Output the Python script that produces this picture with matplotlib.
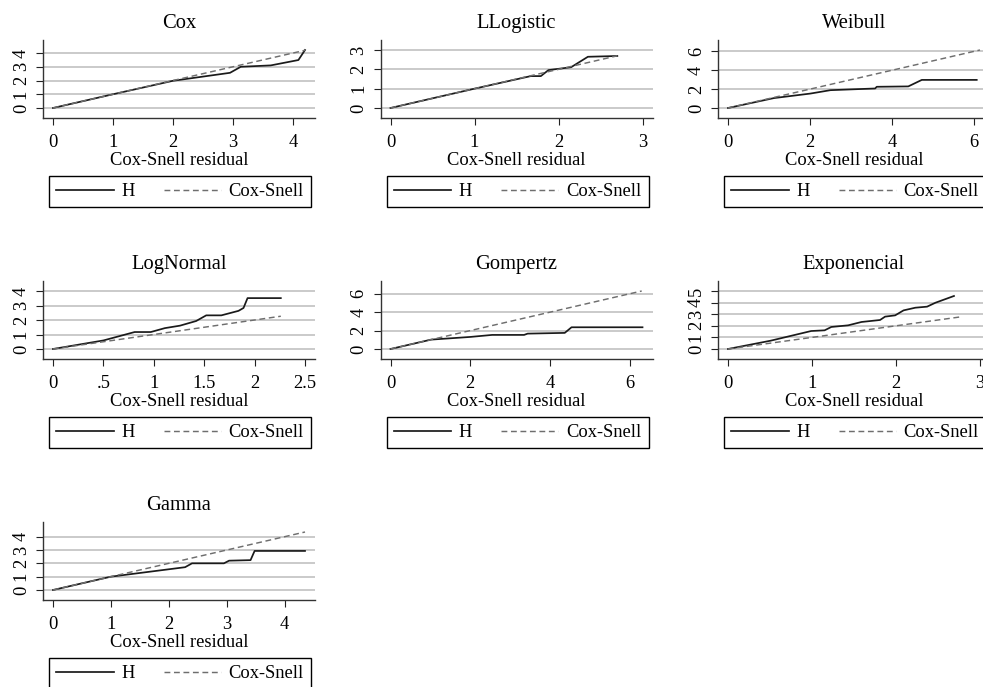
import matplotlib.pyplot as plt
from matplotlib.lines import Line2D

plt.rcParams["font.family"] = ["Liberation Serif", "DejaVu Serif"]

models = ["Cox", "LLogistic", "Weibull", "LogNormal", "Gompertz", "Exponencial", "Gamma"]

# Nelson-Aalen cumulative hazard (H) of the Cox-Snell residuals, one pair per model
cox_x = [0, 1.0, 2.0, 2.95, 3.13, 3.63, 4.09, 4.2]
cox_h = [0, 1.0, 1.98, 2.56, 3.0, 3.1, 3.49, 4.22]

llog_x = [0, 1.0, 1.67, 1.79, 1.88, 2.15, 2.35, 2.70]
llog_h = [0, 1.0, 1.65, 1.65, 1.96, 2.11, 2.65, 2.69]

weib_x = [0, 1.12, 2.01, 2.5, 3.59, 3.63, 4.4, 4.73, 6.07]
weib_h = [0, 1.05, 1.53, 1.89, 2.07, 2.25, 2.29, 2.98, 2.98]

lnorm_x = [0, 0.5, 0.81, 0.97, 1.11, 1.26, 1.42, 1.52, 1.67, 1.84, 1.89, 1.93, 2.26]
lnorm_h = [0, 0.59, 1.17, 1.17, 1.44, 1.61, 1.93, 2.32, 2.32, 2.63, 2.83, 3.51, 3.51]

gomp_x = [0, 1.02, 2.0, 2.55, 3.35, 3.44, 4.37, 4.54, 6.32]
gomp_h = [0, 1.02, 1.31, 1.53, 1.53, 1.67, 1.75, 2.36, 2.36]

expo_x = [0, 0.51, 0.99, 1.15, 1.23, 1.43, 1.59, 1.81, 1.87, 1.99, 2.09, 2.23, 2.37, 2.47, 2.69]
expo_h = [0, 0.72, 1.55, 1.61, 1.90, 2.04, 2.33, 2.50, 2.79, 2.90, 3.33, 3.56, 3.65, 3.99, 4.57]

gamma_x = [0, 1.0, 2.28, 2.40, 2.95, 3.04, 3.41, 3.48, 4.35]
gamma_h = [0, 1.0, 1.71, 2.0, 2.0, 2.2, 2.24, 2.93, 2.93]

h_x = [cox_x, llog_x, weib_x, lnorm_x, gomp_x, expo_x, gamma_x]
h_y = [cox_h, llog_h, weib_h, lnorm_h, gomp_h, expo_h, gamma_h]

# largest Cox-Snell residual (end of the 45 degree reference line)
cs_max = [4.2, 2.7, 6.15, 2.26, 6.3, 2.78, 4.35]

x_ticks = [[0, 1, 2, 3, 4], [0, 1, 2, 3], [0, 2, 4, 6], [0, 0.5, 1, 1.5, 2, 2.5],
           [0, 2, 4, 6], [0, 1, 2, 3], [0, 1, 2, 3, 4]]
x_labels = [["0", "1", "2", "3", "4"], ["0", "1", "2", "3"], ["0", "2", "4", "6"],
            ["0", ".5", "1", "1.5", "2", "2.5"], ["0", "2", "4", "6"],
            ["0", "1", "2", "3"], ["0", "1", "2", "3", "4"]]
y_ticks = [[0, 1, 2, 3, 4], [0, 1, 2, 3], [0, 2, 4, 6], [0, 1, 2, 3, 4],
           [0, 2, 4, 6], [0, 1, 2, 3, 4, 5], [0, 1, 2, 3, 4]]

W, H = 983, 687
fig = plt.figure(figsize=(W / 100, H / 100), dpi=100)


def px_box(left, top, width, height):
    # pixel box (from top-left) -> figure fraction rect
    return [left / W, 1 - (top + height) / H, width / W, height / H]


AX_W, AX_H, MARGIN = 272, 78, 10
FS = 13.3
H_STYLE = dict(color="#1a1a1a", lw=1.25)
CS_STYLE = dict(color="#6e6e6e", lw=1.05, ls=(0, (4, 2.5)))

for i, name in enumerate(models):
    r, c = divmod(i, 3)
    left = 43 + 337.5 * c
    top = 40 + 241 * r
    ax = fig.add_axes(px_box(left, top, AX_W, AX_H))

    cs = [0, cs_max[i]]
    ax.plot(h_x[i], h_y[i], **H_STYLE)
    ax.plot(cs, cs, **CS_STYLE)

    xhi = max(x_ticks[i][-1], max(h_x[i]), cs_max[i])
    yhi = max(y_ticks[i][-1], max(h_y[i]), cs_max[i])
    xpad = MARGIN * xhi / (AX_W - 2 * MARGIN)
    ypad = MARGIN * yhi / (AX_H - 2 * MARGIN)
    ax.set_xlim(-xpad, xhi + xpad)
    ax.set_ylim(-ypad, yhi + ypad)

    ax.set_xticks(x_ticks[i])
    ax.set_xticklabels(x_labels[i])
    ax.set_yticks(y_ticks[i])
    ax.set_yticklabels([str(v) for v in y_ticks[i]], rotation=90, va="center")

    ax.tick_params(axis="x", length=5, width=0.8, pad=6.5, labelsize=FS, color="#222")
    ax.tick_params(axis="y", length=5, width=0.8, pad=4.5, labelsize=FS, color="#222")

    for side in ["top", "right"]:
        ax.spines[side].set_visible(False)
    for side in ["left", "bottom"]:
        ax.spines[side].set_color("#333")
        ax.spines[side].set_linewidth(1.0)

    ax.yaxis.grid(True, color="#c6c6c6", lw=1.3)
    ax.set_axisbelow(True)

    ax.set_title(name, fontsize=14.8, pad=8.5)
    ax.set_xlabel("Cox-Snell residual", fontsize=FS, labelpad=1)

    handles = [Line2D([], [], **H_STYLE), Line2D([], [], **CS_STYLE)]
    leg = ax.legend(handles, ["H", "Cox-Snell"], ncol=2, mode="expand", loc="center",
                    bbox_to_anchor=px_box(left + 6, top + AX_H + 57, AX_W - 10, 33),
                    bbox_transform=fig.transFigure, borderaxespad=0,
                    fontsize=FS, handlelength=3.1, handletextpad=0.4,
                    borderpad=0.4, fancybox=False, framealpha=1)
    leg.get_frame().set_edgecolor("black")
    leg.get_frame().set_linewidth(1.0)

fig.savefig("out.png", dpi=100)
